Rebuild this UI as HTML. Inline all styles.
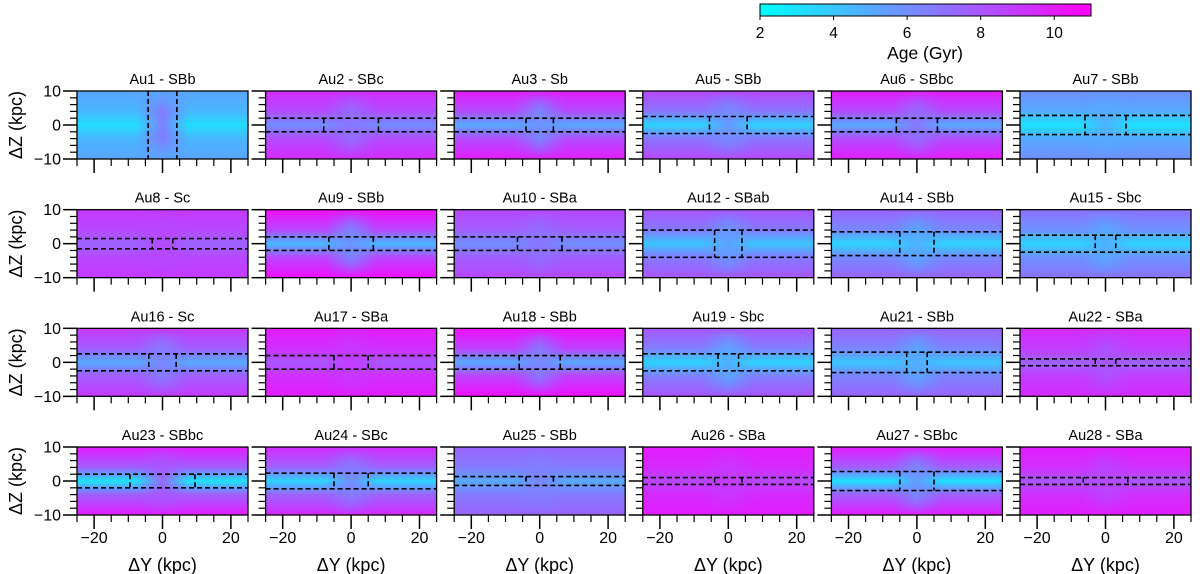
<!DOCTYPE html>
<html><head><meta charset="utf-8"><style>
html,body{margin:0;padding:0;background:#fff;}
svg{display:block;font-family:"Liberation Sans","DejaVu Sans",sans-serif;}
</style></head><body>
<svg id="fig" width="1200" height="574" viewBox="0 0 1200 574" xmlns="http://www.w3.org/2000/svg"></svg>
<script>
// ---- data ----
const names = ["Au1 - SBb","Au2 - SBc","Au3 - Sb","Au5 - SBb","Au6 - SBbc","Au7 - SBb",
"Au8 - Sc","Au9 - SBb","Au10 - SBa","Au12 - SBab","Au14 - SBb","Au15 - Sbc",
"Au16 - Sc","Au17 - SBa","Au18 - SBb","Au19 - Sbc","Au21 - SBb","Au22 - SBa",
"Au23 - SBbc","Au24 - SBc","Au25 - SBb","Au26 - SBa","Au27 - SBbc","Au28 - SBa"];
const outerAge = [5.2,9.5,10,8.5,10,6, 9,10.5,8.5,8,7.5,7, 9,10,10.5,8,7.5,9.5, 10,9.5,7.5,10,10,10];
const midAge   = [3.2,6,5,3.5,5,3, 7.5,4.5,6,4,3.5,3.5, 5,8,5,3.5,4,7.5, 3,3.5,5,8.5,3,8];
const centerAge= [7,7,6,6,7,5, 8.5,6,7,5.5,5,5, 6.5,9,6.5,5,5,8, 8,6.5,6.5,9,6,8.5];
const barHalfLen=[4.2,8,4,5.5,6,6, 3,6.5,6.5,4,5,3, 4,5,6,3,3,3, 9.5,5,4,4,5,6.5];
const boxHalfH = [10,2,2,2.5,2,2.8, 1.5,2,2,4,3.5,2.5, 2.5,2,2,2.5,3,1, 2,2.3,1.3,1,2.8,1];
const xTicks = [-20,0,20];
const yTicks = [-10,0,10];
const cbTicks = [2,4,6,8,10];

// ---- layout ----
const NS="http://www.w3.org/2000/svg";
const svg=document.getElementById('fig');
const PW=171, PH=68, X0=77, DX=188.6, Y0=91, DY=118.67;
function mk(tag,attrs,parent){const e=document.createElementNS(NS,tag);for(const k in attrs)e.setAttribute(k,attrs[k]);(parent||svg).appendChild(e);return e;}
function col(age){let t=(age-2)/9;t=Math.max(0,Math.min(1,t));const r=Math.round(255*t),g=Math.round(255*(1-t));return `rgb(${r},${g},255)`;}
const defs=mk('defs',{});

// colorbar
const cbX=760,cbW=331,cbY=4,cbH=12;
const cg=mk('linearGradient',{id:'cbg',x1:0,x2:1,y1:0,y2:0},defs);
mk('stop',{offset:0,'stop-color':col(2)},cg);mk('stop',{offset:1,'stop-color':col(11)},cg);
const cb=mk('rect',{x:cbX,y:cbY,width:cbW,height:cbH,fill:'url(#cbg)',stroke:'#000','stroke-width':1});


cbTicks.forEach(v=>{const x=cbX+(v-2)/9*cbW;
  mk('line',{x1:x,x2:x,y1:cbY+cbH,y2:cbY+cbH+4,stroke:'#000'});
  const t=mk('text',{x:x,y:38,'text-anchor':'middle','font-size':15.5});t.textContent=v;
  
  });
const cbl=mk('text',{x:925,y:59,'text-anchor':'middle','font-size':17.5});cbl.textContent='Age (Gyr)';



names.forEach((nm,i)=>{
  const c=i%6,r=Math.floor(i/6);
  const px=X0+c*DX, py=Y0+r*DY;
  const sx=v=>px+(v+25)/50*PW, sy=v=>py+(10-v)/20*PH;
  const g=mk('g',{});
  
  
  const gid='vg'+i, rid='rg'+i, hid='hg'+i;
  const lg=mk('linearGradient',{id:gid,x1:0,x2:0,y1:0,y2:1},defs);
  [[0,outerAge[i]],[0.3,(outerAge[i]*2+midAge[i])/3],[0.5,midAge[i]],[0.7,(outerAge[i]*2+midAge[i])/3],[1,outerAge[i]]]
    .forEach(s=>mk('stop',{offset:s[0],'stop-color':col(s[1])},lg));
  const hg=mk('linearGradient',{id:hid,x1:0,x2:1,y1:0,y2:0},defs);
  [[0,0],[0.35,0.0],[0.5,0.85],[0.65,0],[1,0]].forEach(s=>mk('stop',{offset:s[0],'stop-color':col(centerAge[i]),'stop-opacity':s[1]},hg));
  mk('rect',{x:px,y:py,width:PW,height:PH,fill:`url(#${gid})`},g);
  const rg=mk('linearGradient',{id:rid,x1:0,x2:0,y1:0,y2:1},defs);
  [[0,0],[0.3,1],[0.7,1],[1,0]].forEach(s=>mk('stop',{offset:s[0],'stop-color':'#fff','stop-opacity':s[1]},rg));
  const mask=mk('mask',{id:'m'+i},defs);mk('rect',{x:px,y:py,width:PW,height:PH,fill:`url(#${rid})`},mask);
  mk('rect',{x:px,y:py,width:PW,height:PH,fill:`url(#${hid})`,mask:`url(#m${i})`},g);
  // dashed box
  const H=boxHalfH[i],L=barHalfLen[i],ds={stroke:'#000','stroke-width':1.6,'stroke-dasharray':'5,3',fill:'none'};
  if(H<10){[H,-H].forEach(h=>{const l=mk('line',Object.assign({x1:px,x2:px+PW,y1:sy(h),y2:sy(h)},ds),g);
    
    });}
  [L,-L].forEach(v=>{const l=mk('line',Object.assign({x1:sx(v),x2:sx(v),y1:sy(Math.min(H,10)),y2:sy(-Math.min(H,10))},ds),g);
    
    });
  mk('rect',{x:px,y:py,width:PW,height:PH,fill:'none',stroke:'#000','stroke-width':1.3},g);
  // ticks
  for(let v=-25;v<=25;v+=5){const maj=xTicks.includes(v);mk('line',{x1:sx(v),x2:sx(v),y1:py+PH,y2:py+PH+(maj?14:7),stroke:'#000','stroke-width':maj?1.5:1.2},g);}
  for(let v=-10;v<=10;v+=2){const maj=yTicks.includes(v);mk('line',{x1:px,x2:px-(maj?14:7),y1:sy(v),y2:sy(v),stroke:'#000','stroke-width':maj?1.5:1.2},g);}
  const t=mk('text',{x:px+PW/2,y:py-7,'text-anchor':'middle','font-size':14.5},g);t.textContent=nm;
  
  
  if(c===0){
    yTicks.forEach(v=>{const tl=mk('text',{x:px-16,y:sy(v)+5.5,'text-anchor':'end','font-size':16},g);tl.textContent=v<0?'\u2212'+(-v):v;
      
      });
    const yl=mk('text',{x:0,y:0,'text-anchor':'middle','font-size':18,transform:`translate(22,${py+PH/2}) rotate(-90)`},g);yl.textContent='\u0394Z (kpc)';
    
    
  }
  if(r===3){
    xTicks.forEach(v=>{const tl=mk('text',{x:sx(v),y:py+PH+28,'text-anchor':'middle','font-size':16},g);tl.textContent=v<0?'\u2212'+(-v):v;
      
      });
    const xl=mk('text',{x:px+PW/2,y:py+PH+56,'text-anchor':'middle','font-size':18},g);xl.textContent='\u0394Y (kpc)';
    
    
  }
});
</script>
</body></html>
